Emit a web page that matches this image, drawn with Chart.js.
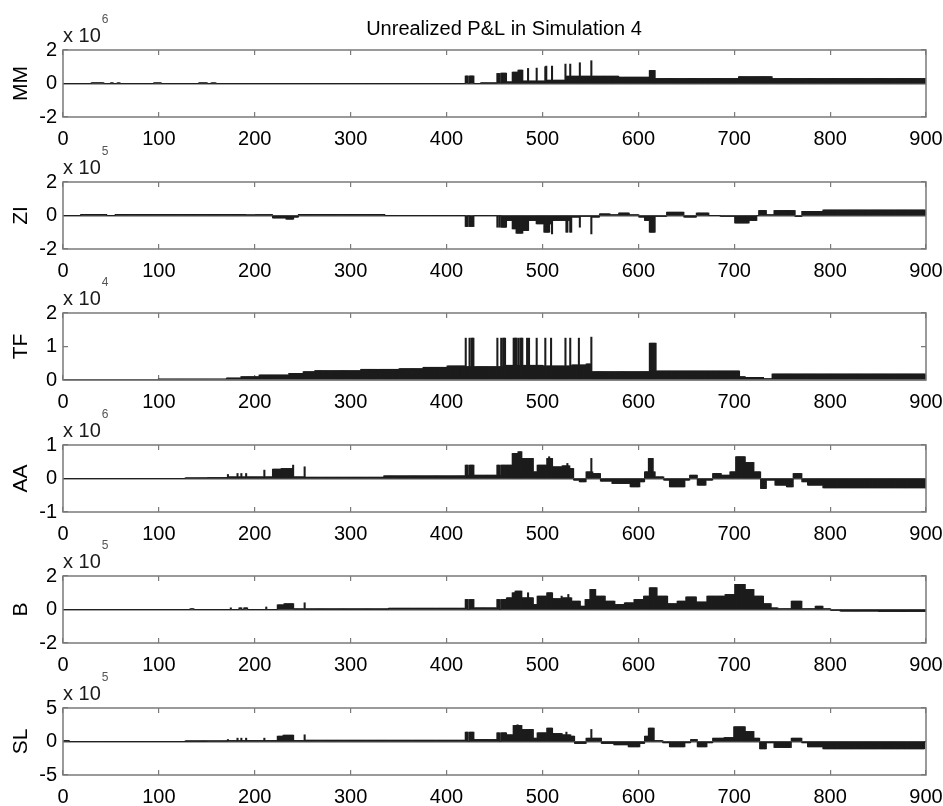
<!DOCTYPE html>
<html>
<head>
<meta charset="utf-8">
<script src="https://cdn.jsdelivr.net/npm/chart.js@4/dist/chart.umd.min.js"></script>
<style>
  body { margin: 0; background: #fff; }
  #wrap { position: relative; width: 943px; height: 806px; background: #fff; overflow: hidden; }
  #wrap canvas { position: absolute; left: 0; }
</style>
</head>
<body>
<div id="wrap"></div>
<script>
// values, in axis units (before the x 10^n factor)
// levels are [firstStep, lastStep, value], spikes are [step, value]
const mmLevels = [
  [30, 42, 0.05], [50, 52, 0.03], [57, 59, 0.03], [95, 102, 0.04], [142, 150, 0.03], [155, 159, 0.03],
  [420, 422, 0.45], [424, 428, 0.45], [436, 452, 0.03],
  [453, 455, 0.6], [456, 456, 0.05], [457, 462, 0.62], [463, 468, 0.1],
  [469, 474, 0.68], [475, 479, 0.8], [480, 503, 0.15], [504, 524, 0.2],
  [525, 579, 0.44], [580, 611, 0.38], [612, 617, 0.78],
  [618, 704, 0.3], [705, 739, 0.41], [740, 900, 0.3]
];
const mmSpikes = [[485, 0.9], [494, 0.92], [503, 1.0], [504, 1.04], [510, 1.04], [524, 1.16], [529, 1.16], [539, 1.24], [551, 1.36]];

const ziLevels = [
  [19, 45, 0.07], [55, 190, 0.07], [191, 200, 0.04], [201, 218, 0.06], [219, 232, -0.15], [233, 240, -0.22],
  [241, 245, -0.1], [246, 335, 0.07],
  [420, 422, -0.66], [424, 428, -0.66], [453, 453, -0.7], [455, 455, -0.7], [457, 462, -0.7],
  [463, 468, -0.3], [469, 472, -0.8], [473, 479, -1.06], [480, 485, -0.9], [486, 493, -0.3],
  [494, 501, -0.5], [502, 507, -1.0], [508, 509, -0.5], [510, 510, -1.1], [511, 524, -0.3],
  [525, 526, -1.0], [527, 528, -0.3], [529, 530, -1.0], [531, 538, -0.1], [539, 539, -0.7],
  [540, 550, -0.05], [551, 551, -1.1], [552, 559, -0.1], [560, 570, 0.1], [571, 579, 0.05],
  [580, 590, 0.15], [591, 600, 0.05], [601, 606, -0.1], [607, 611, -0.3], [612, 617, -1.0],
  [618, 629, -0.05], [630, 647, 0.2], [648, 660, -0.1], [661, 673, 0.15], [686, 700, -0.05],
  [701, 715, -0.45], [716, 723, -0.3], [726, 733, 0.3], [734, 741, 0.05], [742, 763, 0.3],
  [764, 770, -0.06], [771, 792, 0.25], [793, 900, 0.33]
];
const ziSpikes = [];

const tfLevels = [
  [100, 170, 0.03], [171, 185, 0.06], [186, 204, 0.1], [205, 235, 0.15], [236, 250, 0.2], [251, 262, 0.25],
  [263, 310, 0.28], [311, 350, 0.32], [351, 375, 0.34], [376, 400, 0.38], [401, 420, 0.42], [421, 460, 0.4],
  [461, 500, 0.44], [501, 530, 0.42], [531, 545, 0.45], [546, 551, 0.48], [552, 611, 0.25],
  [612, 618, 1.1], [619, 705, 0.27], [706, 711, 0.1], [712, 730, 0.08], [731, 739, 0.04], [740, 900, 0.18]
];
const tfSpikes = [
  [420, 1.25], [424, 1.25], [426, 1.25], [427, 1.25], [428, 1.25], [453, 1.25], [457, 1.25],
  [459, 1.25], [460, 1.25], [461, 1.25], [470, 1.25], [471, 1.25], [472, 1.25], [473, 1.25],
  [475, 1.25], [477, 1.25], [478, 1.25], [479, 1.25], [484, 1.25], [486, 1.25], [494, 1.25],
  [503, 1.25], [509, 1.25], [524, 1.25], [529, 1.25], [538, 1.25], [551, 1.28]
];

const aaLevels = [
  [128, 150, 0.02], [151, 171, 0.03], [172, 172, 0.12], [173, 181, 0.05], [182, 182, 0.15], [183, 185, 0.05],
  [186, 186, 0.15], [187, 190, 0.05], [191, 191, 0.15], [192, 209, 0.05], [210, 210, 0.25], [211, 218, 0.05],
  [219, 227, 0.28], [228, 239, 0.3], [240, 240, 0.4], [241, 251, 0.05], [252, 252, 0.35], [253, 334, 0.04],
  [335, 419, 0.08], [420, 422, 0.4], [423, 423, 0.1], [424, 428, 0.4], [429, 452, 0.1], [453, 455, 0.4],
  [456, 456, 0.1], [457, 468, 0.4], [469, 474, 0.75], [475, 478, 0.8], [479, 490, 0.6], [491, 494, 0.2],
  [495, 504, 0.4], [505, 510, 0.6], [511, 520, 0.35], [521, 528, 0.38], [529, 532, 0.3], [533, 538, -0.05],
  [539, 545, -0.1], [546, 552, 0.2], [553, 560, 0.15], [561, 572, -0.08], [573, 591, -0.15], [592, 601, -0.25],
  [602, 606, -0.1], [607, 610, 0.2], [611, 615, 0.6], [616, 617, 0.2], [618, 626, 0.05], [627, 632, -0.05],
  [633, 648, -0.25], [649, 653, -0.05], [654, 661, 0.1], [662, 670, -0.2], [671, 677, -0.05], [678, 686, 0.15],
  [687, 695, 0.1], [696, 701, 0.2], [702, 711, 0.65], [712, 720, 0.48], [721, 727, 0.2], [728, 733, -0.3],
  [734, 742, -0.05], [743, 754, -0.2], [755, 761, -0.25], [762, 770, 0.15], [771, 776, -0.1], [777, 792, -0.2],
  [793, 900, -0.28]
];
const aaSpikes = [[476, 0.8], [507, 0.65], [526, 0.45], [551, 0.6]];

const bLevels = [
  [133, 136, 0.05], [175, 175, 0.1], [184, 186, 0.1], [189, 192, 0.1], [212, 212, 0.15], [224, 230, 0.28],
  [231, 240, 0.35], [241, 251, 0.03], [252, 252, 0.4], [253, 339, 0.02], [340, 419, 0.08], [420, 422, 0.6],
  [424, 428, 0.6], [429, 452, 0.1], [453, 455, 0.6], [457, 462, 0.6], [463, 468, 0.7], [469, 471, 1.0],
  [472, 478, 1.1], [479, 490, 0.7], [491, 494, 0.3], [495, 504, 0.8], [505, 510, 1.0], [511, 520, 0.65],
  [521, 530, 0.7], [531, 539, 0.5], [540, 544, 0.2], [545, 549, 0.6], [550, 555, 1.2], [556, 565, 0.8],
  [566, 575, 0.5], [576, 585, 0.3], [586, 595, 0.4], [596, 605, 0.6], [606, 611, 0.8], [612, 619, 1.3],
  [620, 630, 0.8], [631, 640, 0.35], [641, 649, 0.5], [650, 660, 0.75], [661, 671, 0.45], [672, 690, 0.8],
  [691, 700, 0.9], [701, 711, 1.5], [712, 720, 1.2], [721, 730, 0.8], [731, 738, 0.35], [739, 745, 0.1],
  [746, 759, 0.05], [760, 770, 0.5], [771, 784, 0.05], [785, 792, 0.2], [793, 800, 0.05], [801, 810, -0.05],
  [811, 850, -0.1], [851, 900, -0.12]
];
const bSpikes = [[485, 1.0], [520, 0.8], [527, 0.9]];

const slLevels = [
  [1, 6, 0.15], [128, 150, 0.05], [151, 171, 0.08], [172, 172, 0.3], [173, 181, 0.15], [182, 182, 0.5],
  [183, 185, 0.15], [186, 186, 0.5], [187, 190, 0.15], [191, 191, 0.5], [192, 209, 0.15], [210, 210, 0.5],
  [211, 223, 0.15], [224, 229, 0.8], [230, 240, 0.95], [241, 251, 0.15], [252, 252, 1.0], [253, 419, 0.2],
  [420, 422, 1.4], [424, 428, 1.4], [429, 452, 0.3], [453, 455, 1.3], [457, 462, 1.3], [463, 469, 1.0],
  [470, 478, 2.4], [479, 490, 1.8], [491, 494, 0.5], [495, 504, 1.3], [505, 510, 2.0], [511, 520, 1.2],
  [521, 529, 1.0], [530, 533, 0.8], [534, 545, -0.3], [546, 550, 0.5], [551, 551, 1.8], [552, 561, 0.5],
  [562, 574, -0.3], [575, 589, -0.5], [590, 601, -0.8], [602, 606, -0.3], [607, 610, 0.8], [611, 616, 2.0],
  [617, 625, 0.15], [626, 632, -0.2], [633, 648, -0.8], [649, 654, -0.2], [655, 661, 0.3], [662, 671, -0.8],
  [672, 677, -0.2], [678, 689, 0.5], [690, 699, 0.6], [700, 711, 2.2], [712, 720, 1.5], [721, 726, 0.5],
  [727, 733, -1.1], [734, 741, -0.2], [742, 759, -0.9], [760, 770, 0.5], [771, 776, -0.2], [777, 792, -0.8],
  [793, 898, -1.1]
];
const slSpikes = [[474, 2.5], [525, 1.4]];

const panelNames = ['MM', 'ZI', 'TF', 'AA', 'B', 'SL'];
const panelExp = [6, 5, 4, 6, 5, 5];
const panelMin = [-2, -2, 0, -1, -2, -5];
const panelMax = [2, 2, 2, 1, 2, 5];
const panelStep = [2, 2, 1, 1, 2, 5];
const panelLevels = [mmLevels, ziLevels, tfLevels, aaLevels, bLevels, slLevels];
const panelSpikes = [mmSpikes, ziSpikes, tfSpikes, aaSpikes, bSpikes, slSpikes];
const xMin = 0, xMax = 900, xStep = 100;
const steps = 900;
const titleText = 'Unrealized P&L in Simulation 4';

const FONT = '"Liberation Sans", Arial, sans-serif';
Chart.defaults.font.family = FONT;
Chart.defaults.font.size = 20;
Chart.defaults.color = '#000';

function expand(levels, spikes) {
  const out = new Array(steps).fill(0);
  levels.forEach(([a, b, v]) => { for (let i = a; i <= b; i++) out[i - 1] = v; });
  spikes.forEach(([i, v]) => { out[i - 1] = v; });
  return out;
}

// box, "x 10^n" and the figure title
const frame = {
  id: 'frame',
  afterDraw(chart, args, opts) {
    const { ctx, chartArea: a } = chart;
    ctx.save();
    ctx.strokeStyle = '#7a7a7a';
    ctx.lineWidth = 1.5;
    ctx.strokeRect(a.left, a.top, a.right - a.left, a.bottom - a.top);
    ctx.fillStyle = '#1a1a1a';
    ctx.textBaseline = 'alphabetic';
    ctx.font = '20px ' + FONT;
    ctx.fillText('x 10', a.left, a.top - 8);
    const w = ctx.measureText('x 10').width;
    ctx.font = '12px ' + FONT;
    ctx.fillStyle = '#555';
    ctx.fillText(String(opts.exp), a.left + w + 1, a.top - 27);
    if (opts.title) {
      ctx.font = '20px ' + FONT;
      ctx.fillStyle = '#000';
      ctx.textAlign = 'center';
      ctx.fillText(opts.title, 504, 35);
    }
    ctx.restore();
  }
};

const wrap = document.getElementById('wrap');

panelNames.forEach((name, p) => {
  const canvas = document.createElement('canvas');
  canvas.width = 943;
  canvas.height = 160;
  canvas.style.top = Math.round(131.6 * p) + 'px';
  wrap.appendChild(canvas);

  const values = expand(panelLevels[p], panelSpikes[p]);

  new Chart(canvas, {
    type: 'bar',
    data: {
      datasets: [{
        data: values.map((v, i) => ({ x: i + 1, y: v })),
        backgroundColor: '#1c1c1c',
        borderWidth: 0,
        barThickness: 1.4
      }]
    },
    options: {
      responsive: false,
      animation: false,
      events: [],
      layout: { padding: { top: 50, right: 17, left: 0, bottom: 0 } },
      plugins: {
        legend: { display: false },
        tooltip: { enabled: false },
        frame: { exp: panelExp[p], title: p === 0 ? titleText : '' }
      },
      scales: {
        x: {
          type: 'linear',
          min: xMin,
          max: xMax,
          offset: false,
          ticks: { stepSize: xStep, padding: 10, maxRotation: 0, autoSkip: false },
          grid: { offset: false, color: '#7a7a7a', lineWidth: 1.2, drawTicks: false },
          border: { display: false, dash: [5, 57] },
          afterFit(scale) {
            scale.height = 43;
            scale.paddingLeft = 0;
            scale.paddingRight = 0;
          }
        },
        y: {
          min: panelMin[p],
          max: panelMax[p],
          ticks: { stepSize: panelStep[p], padding: 6 },
          grid: {
            drawTicks: false,
            color: c => c.tick && c.tick.value === 0 ? '#4a4a4a' : '#7a7a7a',
            lineWidth: c => c.tick && c.tick.value === 0 ? 1.5 : 1.2
          },
          border: { display: false, dash: c => c.tick && c.tick.value === 0 ? [] : [5, 853] },
          title: { display: true, text: name, font: { size: 21 }, padding: { top: 9, bottom: 0 } },
          afterFit(scale) {
            scale.width = 63;
            scale.paddingTop = 0;
            scale.paddingBottom = 0;
          }
        }
      }
    },
    plugins: [frame]
  });
});
</script>
</body>
</html>
